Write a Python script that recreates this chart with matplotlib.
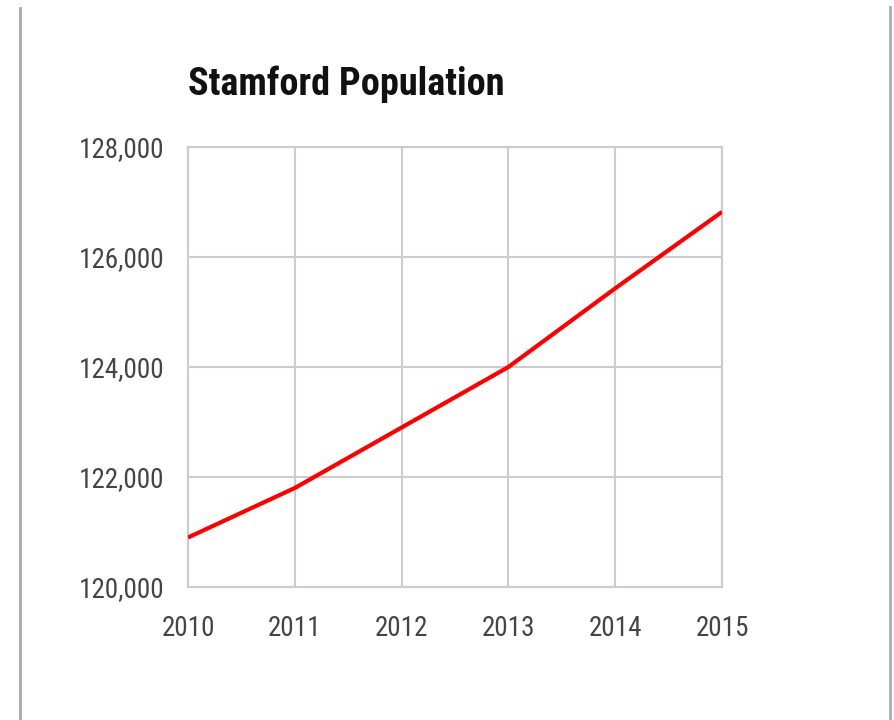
import matplotlib.pyplot as plt
from matplotlib.lines import Line2D
from matplotlib.ticker import FuncFormatter

plt.rcParams['font.family'] = ['Roboto Condensed', 'Liberation Sans', 'DejaVu Sans']

# data
years = [2010, 2011, 2012, 2013, 2014, 2015]
population = [120900, 121800, 122900, 124000, 125430, 126820]
y_ticks = [120000, 122000, 124000, 126000, 128000]

fig = plt.figure(figsize=(8.95, 7.2), dpi=100)
ax = fig.add_axes([188/895, 1-587/720, (722-188)/895, (587-147)/720])

ax.plot(years, population, color='#ff0000', lw=3, solid_capstyle='butt', zorder=3)

ax.set_xlim(2010, 2015)
ax.set_ylim(120000, 128000)
ax.set_xticks(years)
ax.set_yticks(y_ticks)
ax.yaxis.set_major_formatter(FuncFormatter(lambda v, p: f'{int(v):,}'))
ax.grid(True, color='#cccccc', lw=1.5)
ax.set_axisbelow(True)
for s in ax.spines.values():
    s.set_color('#cccccc')
    s.set_linewidth(1.5)
ax.tick_params(length=0, labelsize=19.5, colors='#444444')
ax.tick_params(axis='x', pad=20)
ax.tick_params(axis='y', pad=17)

fig.text(188/895, 1-95/720, 'Stamford Population', fontsize=27.5, fontweight='bold',
         color='#111111', ha='left', va='baseline')

# page borders
fig.add_artist(Line2D([20/895, 20/895], [0, 1-8/720], color='#aaaaaa', lw=2))
fig.add_artist(Line2D([890/895, 890/895], [0, 1-7/720], color='#aaaaaa', lw=2))

fig.savefig('out.png', dpi=100)
